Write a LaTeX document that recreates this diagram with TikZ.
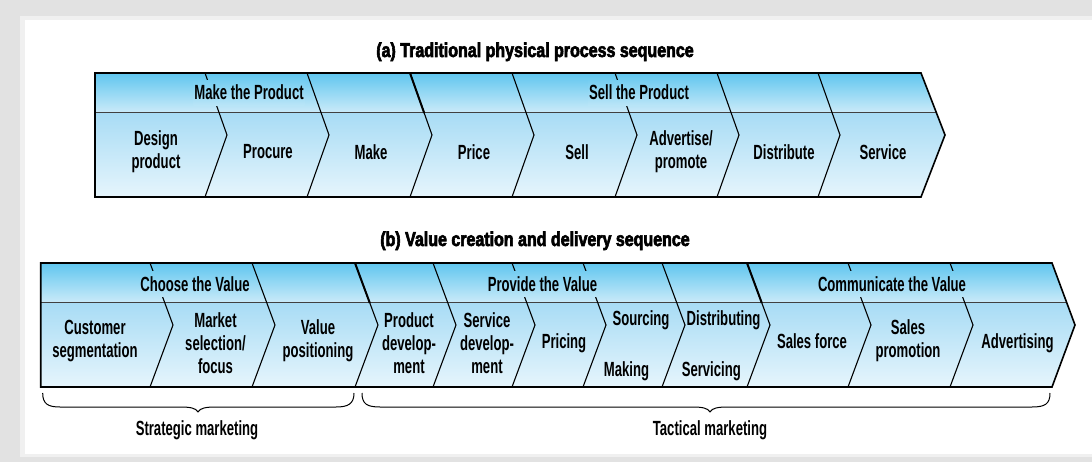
\documentclass[tikz,border=0pt]{standalone}
\usepackage{fontspec}
\setmainfont[FakeStretch=0.78]{Liberation Sans}
\newfontfamily\chevfont[FakeStretch=0.64]{Liberation Sans Bold}
\newfontfamily\headfont[FakeStretch=0.8,FakeBold=3]{Liberation Sans Bold}
\definecolor{bandtop}{RGB}{96,198,239}
\definecolor{bandbot}{RGB}{204,235,249}
\definecolor{celltop}{RGB}{168,220,245}
\definecolor{cellbot}{RGB}{230,245,252}
\definecolor{framegray}{RGB}{226,226,226}
\begin{document}
\begin{tikzpicture}[x=1pt, y=-1pt,
    lbl/.style={font=\chevfont\fontsize{20.5}{23.3}\selectfont, align=center, inner sep=0pt},
    band/.style={lbl, anchor=base, text height=19, text depth=6, inner xsep=1pt,
      top color=bandtop!78!bandbot, bottom color=bandtop!15!bandbot},
    heading/.style={font=\headfont\fontsize{20}{24}\selectfont, anchor=base, inner sep=0pt},
    sepline/.style={line width=1.1pt},
    groupline/.style={line width=2pt},
    outline/.style={line width=1.6pt},
    rowline/.style={line width=1pt, black!75},
    bracket/.style={line width=1pt}]
\useasboundingbox (0,0) rectangle (1092,462);
\fill[framegray] (0,0) rectangle (1092,462);
\fill[framegray!50] (20,16) rectangle (1092,457);
\fill[white] (25,20) rectangle (1092,454);

% (a)
\node (titlea) [heading] at (535,57) {(a) Traditional physical process sequence};
\begin{scope}
  \clip (95,73) -- (921,73) -- (945,135) -- (921,197) -- (95,197) -- cycle;
  \shade[top color=bandtop, bottom color=bandbot] (95,73) rectangle (945,113);
  \shade[top color=celltop, bottom color=cellbot] (95,113) rectangle (945,197);
  \draw[rowline] (95,113) -- (945,113);
\end{scope}
\foreach \x in {205,307,410,512,615,717,818}
  \draw[sepline] (\x,73) -- (\x+22,135) -- (\x,197);
\draw[groupline] (410,73) -- (424.2,113);
\node (makeprod) [band] at (249,100) {Make the Product};
\node (sellprod) [band] at (639,100) {Sell the Product};
\draw[outline] (95,73) -- (921,73) -- (945,135) -- (921,197) -- (95,197) -- cycle;
\node (design) [lbl] at (156,152) {Design\\product};
\node (procure) [lbl] at (268,152) {Procure};
\node (make) [lbl] at (371,152) {Make};
\node (price) [lbl] at (474,152) {Price};
\node (sell) [lbl] at (577,152) {Sell};
\node (advertise) [lbl] at (681,152) {Advertise/\\promote};
\node (distribute) [lbl] at (784,152) {Distribute};
\node (service) [lbl] at (883,152) {Service};

% (b)
\node (titleb) [heading] at (535,246) {(b) Value creation and delivery sequence};
\begin{scope}
  \clip (40.7,263) -- (1052,263) -- (1075,325) -- (1052,387) -- (40.7,387) -- cycle;
  \shade[top color=bandtop, bottom color=bandbot] (40.7,263) rectangle (1075,303);
  \shade[top color=celltop, bottom color=cellbot] (40.7,303) rectangle (1075,387);
  \draw[rowline] (40.7,303) -- (1075,303);
\end{scope}
\foreach \x in {150,252,355,433,512,583,662,747,848,950}
  \draw[sepline] (\x,263) -- (\x+23,325) -- (\x,387);
\foreach \x in {355,747}
  \draw[groupline] (\x,263) -- (\x+14.8,303);
\node (choose) [band] at (195,291) {Choose the Value};
\node (provide) [band] at (542.5,291) {Provide the Value};
\node (communicate) [band] at (892,291) {Communicate the Value};
\draw[outline] (40.7,263) -- (1052,263) -- (1075,325) -- (1052,387) -- (40.7,387) -- cycle;
\node (custseg) [lbl] at (95,341) {Customer\\segmentation};
\node (market) [lbl] at (215.5,343) {Market\\selection/\\focus};
\node (valpos) [lbl] at (318,341) {Value\\positioning};
\node (proddev) [lbl] at (409,343) {Product\\develop-\\ment};
\node (servdev) [lbl] at (487,343) {Service\\develop-\\ment};
\node (pricing) [lbl] at (564,343) {Pricing};
\node (sourcing) [lbl] at (641,320) {Sourcing};
\node (making) [lbl] at (626.5,371) {Making};
\node (distributing) [lbl] at (723.5,320) {Distributing};
\node (servicing) [lbl] at (711.3,371) {Servicing};
\node (salesforce) [lbl] at (812,341) {Sales force};
\node (salesprom) [lbl] at (908,341) {Sales\\promotion};
\node (advertising) [lbl] at (1017.5,343) {Advertising};

\node (strategic) [lbl, anchor=base] at (197,435) {Strategic marketing};
\node (tactical) [lbl, anchor=base] at (710,435) {Tactical marketing};
\draw[bracket] (42.7,393) .. controls (42.7,404) and (48,407) .. (60,407) -- (180,407)
  .. controls (190,407) and (196,408) .. (198,412) .. controls (200,408) and (206,407) .. (216,407)
  -- (336,407) .. controls (348,407) and (354,404) .. (354,393);
\draw[bracket] (362,393) .. controls (362,404) and (367,407) .. (380,407) -- (692,407)
  .. controls (702,407) and (708,408) .. (710,412) .. controls (712,408) and (718,407) .. (728,407)
  -- (1032,407) .. controls (1045,407) and (1050,404) .. (1050,393);
\end{tikzpicture}
\end{document}
